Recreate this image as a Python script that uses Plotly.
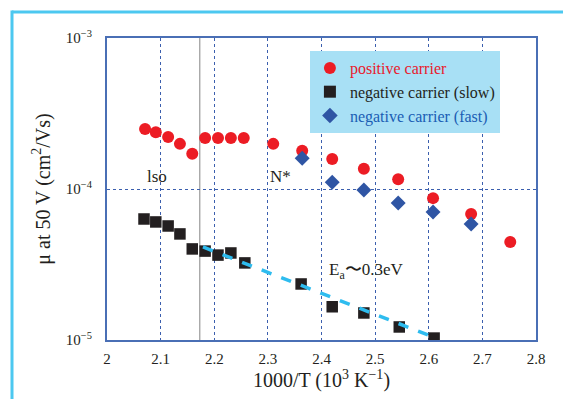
import plotly.graph_objects as go

pos_x = [2.071, 2.091, 2.114, 2.136, 2.159, 2.183, 2.207, 2.231, 2.255, 2.310, 2.364, 2.420, 2.479, 2.543, 2.608, 2.679, 2.752]
pos_y = [2.50e-4, 2.38e-4, 2.21e-4, 1.99e-4, 1.71e-4, 2.18e-4, 2.18e-4, 2.18e-4, 2.18e-4, 1.99e-4, 1.79e-4, 1.58e-4, 1.36e-4, 1.16e-4, 8.7e-5, 6.83e-5, 4.46e-5]

slow_x = [2.069, 2.091, 2.114, 2.136, 2.159, 2.183, 2.207, 2.231, 2.257, 2.362, 2.420, 2.479, 2.545, 2.610]
slow_y = [6.33e-5, 6.05e-5, 5.69e-5, 5.04e-5, 4.01e-5, 3.88e-5, 3.65e-5, 3.77e-5, 3.24e-5, 2.35e-5, 1.66e-5, 1.51e-5, 1.22e-5, 1.03e-5]

fast_x = [2.364, 2.420, 2.479, 2.543, 2.608, 2.679]
fast_y = [1.60e-4, 1.11e-4, 9.85e-5, 8.07e-5, 7.04e-5, 5.87e-5]

fit_x = [2.179, 2.608]
fit_y = [4.13e-5, 1.047e-5]

x_ticks = [2, 2.1, 2.2, 2.3, 2.4, 2.5, 2.6, 2.7, 2.8]
x_tick_labels = ["2", "2.1", "2.2", "2.3", "2.4", "2.5", "2.6", "2.7", "2.8"]
y_ticks = [1e-5, 1e-4, 1e-3]
y_tick_labels = ["10<sup>−5</sup>", "10<sup>−4</sup>", "10<sup>−3</sup>"]

iso_x = 2.173

SERIF = "Liberation Serif, Times New Roman, serif"
INK = "#231f20"


def legend_name(text, color):
    return f"<span style='color:{color};font-family:Liberation Serif'>{text}</span>"


fig = go.Figure()
fig.add_trace(go.Scatter(x=pos_x, y=pos_y, mode="markers",
                         name=legend_name("positive carrier", "#e8192c"),
                         marker=dict(symbol="circle", size=12, color="#ec1c24")))
fig.add_trace(go.Scatter(x=slow_x, y=slow_y, mode="markers",
                         name=legend_name("negative carrier (slow)", INK),
                         marker=dict(symbol="square", size=11.5, color=INK)))
fig.add_trace(go.Scatter(x=fast_x, y=fast_y, mode="markers",
                         name=legend_name("negative carrier (fast)", "#1a5db4"),
                         marker=dict(symbol="diamond", size=11.5, color="#2f55a4")))
fig.add_trace(go.Scatter(x=fit_x, y=fit_y, mode="lines", showlegend=False,
                         line=dict(color="#2ebcef", width=3.5, dash="dash")))

fig.add_shape(type="line", x0=iso_x, x1=iso_x, y0=0, y1=1, xref="x", yref="paper",
              line=dict(color="#999999", width=1.2), layer="below")

# outer frame (plot area spans 429 x 302 px)
fig.add_shape(type="line", x0=-95/429, x1=1.2, y0=1 + 26/302, y1=1 + 26/302,
              xref="paper", yref="paper", line=dict(color="#4cc8f0", width=3))
fig.add_shape(type="line", x0=-95/429, x1=-95/429, y0=-0.25, y1=1 + 27.5/302,
              xref="paper", yref="paper", line=dict(color="#4cc8f0", width=3))

fig.add_annotation(x=2.093, y=-3.92, xref="x", yref="y", text="lso", showarrow=False,
                   font=dict(family=SERIF, size=17, color=INK))
fig.add_annotation(x=2.323, y=-3.92, xref="x", yref="y", text="N*", showarrow=False,
                   font=dict(family=SERIF, size=17, color=INK))
fig.add_annotation(x=2.41, y=-4.54, xref="x", yref="y", text="E<sub>a</sub>〜0.3eV", showarrow=False,
                   xanchor="left", font=dict(family=SERIF, size=17, color=INK))

fig.update_layout(
    width=563, height=391,
    margin=dict(l=99, r=35, t=30, b=59),
    paper_bgcolor="white", plot_bgcolor="white",
    font=dict(family=SERIF, color=INK),
    showlegend=True,
    legend=dict(x=0.473, y=0.957, xanchor="left", yanchor="top", bgcolor="#a8e0f5",
                font=dict(family=SERIF, size=16), borderwidth=0,
                itemsizing="constant", tracegroupgap=0, itemwidth=30),
    xaxis=dict(range=[2, 2.8], tickvals=x_ticks, ticktext=x_tick_labels,
               showgrid=True, gridcolor="#3b5fae", griddash="dot", gridwidth=1,
               showline=True, linecolor="#4a6fb5", linewidth=2, mirror=True,
               ticks="outside", ticklen=4, tickcolor="rgba(0,0,0,0)", zeroline=False,
               tickfont=dict(family=SERIF, size=15, color=INK),
               title=dict(text="1000/T (10<sup>3</sup> K<sup>−1</sup>)", standoff=6,
                          font=dict(family=SERIF, size=20, color=INK))),
    yaxis=dict(type="log", range=[-5, -3], tickvals=y_ticks, ticktext=y_tick_labels,
               showgrid=True, gridcolor="#3b5fae", griddash="dot", gridwidth=1,
               showline=True, linecolor="#4a6fb5", linewidth=2, mirror=True,
               ticks="outside", ticklen=10, tickcolor="rgba(0,0,0,0)", zeroline=False,
               tickfont=dict(family=SERIF, size=15, color=INK),
               title=dict(text="μ at 50 V (cm<sup>2</sup>/Vs)", standoff=10,
                          font=dict(family=SERIF, size=20, color=INK))),
)

fig.write_html("out.html")
